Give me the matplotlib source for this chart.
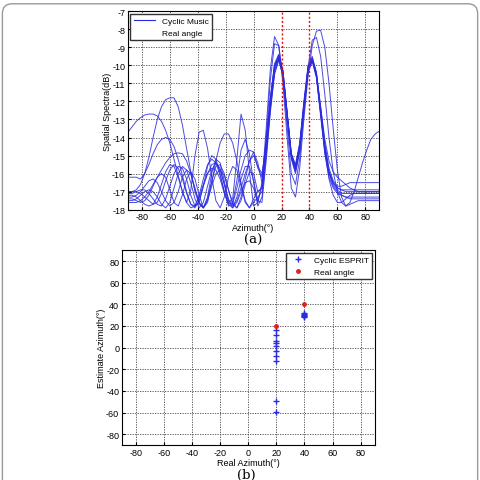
import numpy as np
import matplotlib
matplotlib.use('Agg')
import matplotlib.pyplot as plt
from matplotlib.lines import Line2D
from matplotlib.patches import FancyBboxPatch

# azimuth grid of the spectrum curves (deg)
azimuth = list(range(-90, 91, 3))

# spectra (dB), one list per trial
spec1 = [-13.7, -13.4, -13.1, -12.9, -12.75, -12.7, -12.7, -12.8, -13.1, -13.6, -14.3, -15.2, -16.1, -17.0, -17.6, -17.9,
         -17.8, -17.3, -16.6, -16.0, -15.7, -15.8, -16.3, -17.1, -17.7, -17.9, -17.6, -17.0, -16.5, -16.4, -16.8, -17.6,
         -16.5, -13.5, -10.2, -8.4, -8.9, -11.0, -14.0, -16.8, -17.3, -15.7, -13.0, -10.6, -8.9, -8.1, -8.05, -9.0,
         -11.0, -13.5, -15.8, -17.3, -17.8, -17.6, -17.0, -16.2, -15.4, -14.7, -14.1, -13.8, -13.65]
spec2 = [-17.0, -17.0, -16.9, -16.6, -16.0, -15.1, -14.0, -13.0, -12.3, -11.9, -11.8, -11.8, -12.3, -13.3, -14.6, -15.9,
         -17.0, -17.7, -17.9, -17.5, -16.7, -16.0, -15.8, -16.1, -16.9, -17.6, -17.9, -17.5, -16.6, -15.9, -16.0, -17.0,
         -16.8, -14.0, -10.8, -8.8, -8.9, -10.6, -13.4, -16.0, -16.6, -15.2, -12.6, -10.1, -8.6, -8.45, -9.5, -11.6,
         -14.0, -15.9, -17.0, -17.6, -17.8, -17.7, -17.6, -17.5, -17.5, -17.5, -17.5, -17.5, -17.5]
spec3 = [-17.2, -17.2, -17.3, -17.5, -17.7, -17.8, -17.7, -17.3, -16.6, -15.9, -15.5, -15.6, -16.2, -17.0, -17.6, -16.9,
         -15.0, -13.7, -13.6, -14.6, -16.2, -17.5, -17.9, -17.3, -16.2, -15.6, -15.8, -16.7, -17.6, -17.9, -17.4, -17.0,
         -16.8, -14.6, -12.0, -10.1, -9.5, -10.4, -12.7, -15.0, -15.8, -14.6, -12.3, -10.3, -9.7, -10.5, -12.5, -14.6,
         -15.9, -16.5, -16.8, -16.9, -17.0, -17.0, -17.0, -17.0, -17.0, -17.0, -17.0, -17.0, -17.0]
spec4 = [-17.5, -17.5, -17.4, -17.2, -17.0, -16.9, -17.0, -17.3, -17.7, -17.9, -17.6, -16.8, -16.0, -15.6, -15.8, -16.5,
         -17.4, -17.9, -17.6, -16.7, -15.8, -15.4, -15.7, -16.6, -17.6, -17.4, -15.2, -12.7, -13.6, -15.9, -17.8, -17.6,
         -16.6, -14.3, -11.8, -10.0, -9.6, -10.6, -12.9, -15.1, -15.7, -14.4, -12.1, -10.1, -9.6, -10.6, -12.7, -14.8,
         -16.3, -17.2, -17.6, -17.6, -17.4, -17.2, -17.1, -17.1, -17.1, -17.1, -17.1, -17.1, -17.1]
spec5 = [-17.4, -17.4, -17.5, -17.6, -17.5, -17.2, -16.7, -16.2, -16.0, -16.2, -16.9, -17.6, -17.8, -17.2, -16.3, -15.9,
         -16.3, -17.2, -17.9, -17.6, -16.5, -15.3, -14.3, -13.8, -13.8, -14.3, -15.3, -16.5, -17.5, -17.9, -17.6, -17.3,
         -17.0, -14.9, -12.4, -10.3, -9.5, -10.3, -12.6, -14.9, -15.6, -14.5, -12.3, -10.2, -9.65, -10.5, -12.3, -14.1,
         -15.3, -15.9, -16.2, -16.4, -16.6, -16.8, -16.9, -17.0, -17.0, -17.0, -17.0, -17.0, -17.0]
spec6 = [-16.2, -16.2, -16.2, -16.3, -16.0, -15.5, -14.9, -14.4, -14.1, -14.0, -14.1, -14.5, -15.2, -16.1, -17.0, -17.7,
         -17.9, -17.5, -16.7, -16.0, -15.5, -15.4, -15.8, -16.6, -17.4, -17.8, -17.5, -16.8, -16.0, -15.3, -15.0, -15.6,
         -16.0, -14.4, -11.9, -10.0, -9.4, -10.3, -12.6, -14.9, -15.6, -14.4, -12.2, -10.1, -9.6, -10.4, -12.3, -14.3,
         -15.7, -16.4, -16.7, -16.7, -16.6, -16.5, -16.5, -16.5, -16.5, -16.5, -16.5, -16.5, -16.5]
spec7 = [-17.6, -17.6, -17.6, -17.5, -17.3, -17.0, -16.6, -16.2, -15.8, -15.4, -15.1, -14.9, -14.85, -14.9, -15.3, -16.0,
         -16.9, -17.6, -17.9, -17.4, -16.4, -15.6, -15.5, -16.0, -16.9, -17.7, -17.9, -17.3, -16.3, -15.3, -14.8, -15.4,
         -16.5, -14.7, -12.1, -10.2, -9.6, -10.5, -12.8, -15.1, -15.9, -14.7, -12.4, -10.3, -9.7, -10.6, -12.6, -14.7,
         -16.0, -16.7, -17.0, -17.2, -17.3, -17.4, -17.4, -17.4, -17.4, -17.4, -17.4, -17.4, -17.4]
spec8 = [-17.0, -17.0, -17.0, -17.1, -17.3, -17.5, -17.7, -17.6, -17.1, -16.4, -15.8, -15.5, -15.7, -16.3, -17.1, -17.7,
         -17.8, -17.2, -16.3, -15.5, -15.2, -15.4, -16.1, -17.0, -17.7, -17.6, -16.4, -14.7, -14.1, -14.9, -16.5, -17.8,
         -17.3, -15.0, -12.4, -10.4, -9.7, -10.6, -12.9, -15.2, -16.0, -14.8, -12.5, -10.4, -9.8, -10.7, -12.8, -14.9,
         -16.2, -16.8, -17.1, -17.2, -17.3, -17.3, -17.3, -17.3, -17.3, -17.3, -17.3, -17.3, -17.3]
spec9 = [-17.3, -17.3, -17.2, -17.0, -16.7, -16.4, -16.3, -16.5, -17.0, -17.5, -17.8, -17.6, -17.0, -16.2, -15.8, -16.0,
         -16.8, -17.6, -17.9, -17.3, -16.0, -15.2, -15.4, -16.4, -17.5, -17.9, -17.3, -16.3, -15.6, -15.6, -16.4, -17.5,
         -17.6, -15.3, -12.6, -10.5, -9.7, -10.5, -12.7, -15.0, -15.8, -14.6, -12.3, -10.3, -9.7, -10.6, -12.6, -14.6,
         -15.9, -16.5, -16.8, -16.9, -16.9, -16.9, -16.9, -16.9, -16.9, -16.9, -16.9, -16.9, -16.9]
spec10 = [-17.1, -17.1, -17.0, -16.9, -16.9, -17.1, -17.4, -17.7, -17.8, -17.4, -16.7, -16.0, -15.6, -15.7, -16.3, -17.2,
          -17.8, -17.6, -16.7, -15.6, -15.0, -15.2, -16.0, -17.0, -17.8, -17.7, -16.8, -15.8, -15.0, -14.7, -14.8, -15.7,
          -16.2, -14.2, -11.8, -9.9, -9.4, -10.3, -12.6, -14.9, -15.5, -14.3, -12.0, -10.0, -9.5, -10.4, -12.4, -14.5,
          -15.9, -16.6, -16.9, -17.1, -17.1, -17.1, -17.1, -17.1, -17.1, -17.1, -17.1, -17.1, -17.1]
spectra = [spec1, spec2, spec3, spec4, spec5, spec6, spec7, spec8, spec9, spec10]
real_angles = [20, 40]

# estimates of the cyclic ESPRIT trials
esprit_real = [20, 20, 20, 20, 20, 20, 20, 20, 20, 20, 40, 40, 40, 40, 40, 40]
esprit_est = [16.6, 11.4, 5.8, 4.6, 1.2, -3.1, -7.4, -12.3, -48.9, -59.4, 28.2, 28.9, 29.5, 30.2, 30.8, 31.5]

blue = '#2b2be0'
plt.rcParams['font.family'] = 'Liberation Sans'
plt.rcParams['axes.unicode_minus'] = False

fig = plt.figure(figsize=(4.81, 4.81), dpi=100)
fig.patches.append(FancyBboxPatch((0.005, -0.05), 0.988, 1.04, boxstyle='round,pad=0,rounding_size=0.02',
                                  transform=fig.transFigure, fc='none', ec='#9a9a9a', lw=1.0))

# (a) spectra
ax1 = fig.add_axes([0.266, 0.562, 0.5225, 0.4125])
for s in spectra:
    ax1.plot(azimuth, s, color=blue, lw=0.7, alpha=0.85)
for a in real_angles:
    ax1.plot([a, a], [-18, -7], color='#dd1111', ls=(0, (1.5, 1.5)), lw=1.0, zorder=3, snap=True)
ax1.set_xlim(-90, 90)
ax1.set_ylim(-18, -7)
ax1.set_xticks(np.arange(-80, 81, 20))
ax1.set_yticks(np.arange(-18, -6, 1))
ax1.grid(True, color='#444444', ls=(0, (1.5, 1.5)), lw=0.6)
# the red marker lines take the place of the grid at the true angles
for tick, gl in zip(ax1.get_xticks(), ax1.get_xgridlines()):
    if tick in real_angles:
        gl.set_visible(False)
ax1.tick_params(labelsize=6.5, length=2, direction='in', pad=2)
ax1.set_xlabel('Azimuth(°)', fontsize=6.5, labelpad=1)
ax1.set_ylabel('Spatial Spectra(dB)', fontsize=6.5, labelpad=0)
h1 = [Line2D([], [], color=blue, lw=0.8), Line2D([], [], ls='none')]
ax1.legend(h1, ['Cyclic Music', 'Real angle'], loc='upper left', fontsize=6, fancybox=False,
           edgecolor='#333333', framealpha=1, borderaxespad=0.3, handlelength=2.6, labelspacing=0.5)
fig.text(0.527, 0.501, '(a)', ha='center', va='center', fontsize=9.5, family='DejaVu Serif')

# (b) ESPRIT estimates
ax2 = fig.add_axes([0.2536, 0.0728, 0.5254, 0.405])
ax2.plot(esprit_real, esprit_est, ls='none', marker='+', ms=4, mew=1.0, color=blue, label='Cyclic ESPRIT')
ax2.plot(real_angles, real_angles, ls='none', marker='o', ms=2.5, color='#e02020', label='Real angle')
ax2.set_xlim(-90, 90)
ax2.set_ylim(-90, 90)
ax2.set_xticks(np.arange(-80, 81, 20))
ax2.set_yticks(np.arange(-80, 81, 20))
ax2.grid(True, color='#444444', ls=(0, (1.5, 1.5)), lw=0.6)
ax2.tick_params(labelsize=6.5, length=2, direction='in', pad=2)
ax2.set_xlabel('Real Azimuth(°)', fontsize=6.5, labelpad=1)
ax2.set_ylabel('Estimate Azimuth(°)', fontsize=6.5, labelpad=0)
ax2.legend(loc='upper right', fontsize=6, fancybox=False, edgecolor='#333333', framealpha=1,
           borderaxespad=0.3, handlelength=2.2, labelspacing=0.5)
fig.text(0.513, 0.012, '(b)', ha='center', va='center', fontsize=9.5, family='DejaVu Serif')

fig.savefig('out.png', dpi=100)
